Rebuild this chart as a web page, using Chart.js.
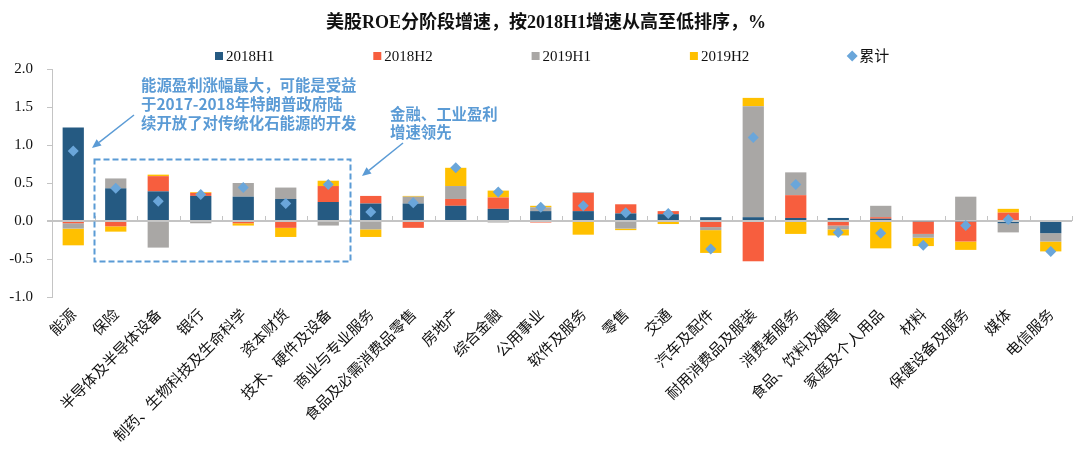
<!DOCTYPE html>
<html>
<head>
<meta charset="utf-8">
<script src="https://cdn.jsdelivr.net/npm/chart.js@4/dist/chart.umd.min.js"></script>
<style>
html,body{margin:0;padding:0;background:#fff;}
#wrap{width:1080px;height:458px;position:relative;}
</style>
</head>
<body>
<div id="wrap"><canvas id="c" width="1080" height="458"></canvas></div>
<script>
const categories = ['能源','保险','半导体及半导体设备','银行','制药、生物科技及生命科学','资本财货','技术、硬件及设备','商业与专业服务','食品及必需消费品零售','房地产','综合金融','公用事业','软件及服务','零售','交通','汽车及配件','耐用消费品及服装','消费者服务','食品、饮料及烟草','家庭及个人用品','材料','保健设备及服务','媒体','电信服务'];
const h1_2018 = [1.23, 0.43, 0.39, 0.33, 0.32, 0.29, 0.25, 0.23, 0.23, 0.20, 0.16, 0.13, 0.13, 0.10, 0.09, 0.05, 0.05, 0.04, 0.04, 0.03, -0.01, -0.01, -0.03, -0.16];
const h2_2018 = [-0.03, -0.07, 0.20, 0.04, -0.03, -0.09, 0.21, 0.10, -0.09, 0.09, 0.15, -0.02, 0.24, 0.12, 0.04, -0.08, -0.53, 0.30, -0.06, 0.02, -0.16, -0.26, 0.11, 0.00];
const h1_2019 = [-0.07, 0.13, -0.35, -0.03, 0.18, 0.15, -0.06, -0.11, 0.09, 0.17, -0.02, 0.05, 0.01, -0.10, 0.00, -0.04, 1.46, 0.30, -0.05, 0.15, -0.05, 0.32, -0.12, -0.11];
const h2_2019 = [-0.22, -0.07, 0.02, 0.01, -0.03, -0.12, 0.07, -0.10, 0.01, 0.24, 0.09, 0.02, -0.18, -0.02, -0.04, -0.30, 0.11, -0.17, -0.08, -0.36, -0.11, -0.11, 0.05, -0.13];
const cumulative = [0.92, 0.43, 0.26, 0.35, 0.44, 0.23, 0.48, 0.12, 0.24, 0.70, 0.38, 0.18, 0.20, 0.11, 0.10, -0.37, 1.10, 0.48, -0.15, -0.16, -0.32, -0.06, 0.02, -0.40];
const seriesNames = ['2018H1','2018H2','2019H1','2019H2','累计'];
const yTicks = [-1.0, -0.5, 0.0, 0.5, 1.0, 1.5, 2.0];
const titleText = '美股ROE分阶段增速，按2018H1增速从高至低排序，%';
const note1 = ['能源盈利涨幅最大，可能是受益','于2017-2018年特朗普政府陆','续开放了对传统化石能源的开发'];
const note2 = ['金融、工业盈利','增速领先'];

const COLORS = ['#255A82','#F75E3E','#A9A7A5','#FFC000','#6AA6DA'];
const NOTE_COLOR = '#5B9BD5';
const AXIS_COLOR = '#C4C4C4';

function arrow(ctx, x1, y1, x2, y2){
  ctx.save();
  ctx.strokeStyle = NOTE_COLOR; ctx.fillStyle = NOTE_COLOR; ctx.lineWidth = 1.5;
  const a = Math.atan2(y2-y1, x2-x1);
  const hl = 9, hw = 4;
  const bx = x2 - hl*Math.cos(a), by = y2 - hl*Math.sin(a);
  ctx.beginPath(); ctx.moveTo(x1,y1); ctx.lineTo(bx,by); ctx.stroke();
  ctx.beginPath();
  ctx.moveTo(x2,y2);
  ctx.lineTo(bx + hw*Math.sin(a), by - hw*Math.cos(a));
  ctx.lineTo(bx - hw*Math.sin(a), by + hw*Math.cos(a));
  ctx.closePath(); ctx.fill();
  ctx.restore();
}

const decor = {
  id: 'decor',
  afterDraw(chart){
    const ctx = chart.ctx;
    const xs = chart.scales.x, ys = chart.scales.y;
    const y0 = ys.getPixelForValue(0);
    ctx.save();
    ctx.strokeStyle = AXIS_COLOR; ctx.lineWidth = 1;
    const n = categories.length;
    for (let i = 0; i <= n; i++){
      const px = Math.round(xs.getPixelForValue(i - 0.5)) + 0.5;
      ctx.beginPath(); ctx.moveTo(px, y0); ctx.lineTo(px, y0 - 5); ctx.stroke();
    }
    ctx.fillStyle = '#111';
    ctx.font = "bold 18px 'Liberation Serif','Noto Sans CJK SC'";
    ctx.textAlign = 'center'; ctx.textBaseline = 'middle';
    ctx.fillText(titleText, 546, 23);
    ctx.font = "15px 'Liberation Serif','Noto Sans CJK SC'";
    ctx.textAlign = 'left';
    for (let i = 0; i < seriesNames.length; i++){
      const mx = 215 + i*158.3;
      ctx.fillStyle = COLORS[i];
      if (i < 4){
        ctx.fillRect(mx, 52, 8, 8);
      } else {
        ctx.beginPath();
        ctx.moveTo(mx+4, 50.5); ctx.lineTo(mx+9.5, 56); ctx.lineTo(mx+4, 61.5); ctx.lineTo(mx-1.5, 56); ctx.closePath(); ctx.fill();
      }
      ctx.fillStyle = '#111';
      ctx.fillText(seriesNames[i], mx + 11, 57);
    }
    ctx.fillStyle = NOTE_COLOR;
    ctx.font = "bold 15.4px 'Noto Sans CJK SC'";
    ctx.textAlign = 'left'; ctx.textBaseline = 'middle';
    note1.forEach((t, k) => ctx.fillText(t, 141, 85 + k*19));
    note2.forEach((t, k) => ctx.fillText(t, 390, 114 + k*18));
    arrow(ctx, 134, 115, 92, 148);
    arrow(ctx, 403, 143, 362, 176);
    ctx.strokeStyle = NOTE_COLOR; ctx.lineWidth = 2; ctx.setLineDash([6,3]);
    ctx.strokeRect(94.5, 159.5, 256, 102);
    ctx.setLineDash([]);
    ctx.restore();
  }
};

const barDs = [h1_2018, h2_2018, h1_2019, h2_2019].map((d, i) => ({
  type: 'bar', label: seriesNames[i], data: d, backgroundColor: COLORS[i],
  stack: 'bars', barPercentage: 0.5, categoryPercentage: 1.0, borderWidth: 0, order: 2
}));

new Chart(document.getElementById('c'), {
  data: {
    labels: categories,
    datasets: [...barDs, {
      type: 'line', label: seriesNames[4], data: cumulative, stack: 'cum',
      showLine: false, pointStyle: 'rectRot', pointRadius: 5.5, pointHoverRadius: 5.5,
      backgroundColor: COLORS[4], borderColor: COLORS[4], borderWidth: 0, order: 1
    }]
  },
  options: {
    responsive: false, animation: false,
    layout: { padding: { top: 69, right: 8, left: 0, bottom: 0 } },
    plugins: { legend: { display: false }, title: { display: false }, tooltip: { enabled: false } },
    scales: {
      x: {
        stacked: true,
        grid: { display: false, drawTicks: false },
        border: { display: false },
        ticks: { autoSkip: false, maxRotation: 45, minRotation: 45, padding: 8, color: '#111',
                 font: { family: "'Noto Sans CJK SC'", size: 15 } },
        afterFit(s){ s.height = 161; }
      },
      y: {
        stacked: true, min: -1, max: 2,
        afterBuildTicks(s){ s.ticks = yTicks.map(v => ({ value: v })); },
        grid: { color: c => (c.tick && c.tick.value === 0) ? AXIS_COLOR : 'rgba(0,0,0,0)', lineWidth: c => (c.tick && c.tick.value === 0) ? 2 : 1,
                tickColor: AXIS_COLOR, tickLength: 5, drawTicks: true },
        border: { display: true, color: AXIS_COLOR, width: 1 },
        ticks: { padding: 14, color: '#111', font: { family: "'Liberation Serif'", size: 15 },
                 callback: v => Number(v).toFixed(1) },
        afterFit(s){ s.width = 52; }
      }
    }
  },
  plugins: [decor]
});
</script>
</body>
</html>
